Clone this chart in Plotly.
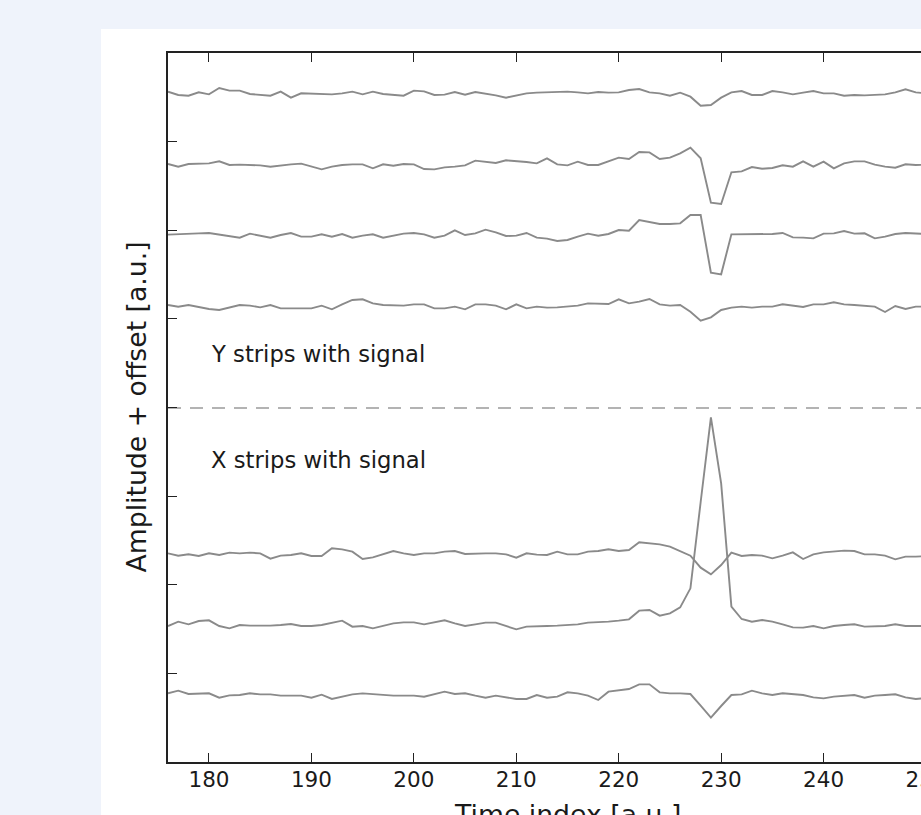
import numpy as np
import plotly.graph_objects as go

# ---------------- data ----------------
time_index = list(range(176, 251))

# Y strips (top to bottom): amplitude samples (a.u.) and vertical offsets
y4_amp = [5, -5, -7, 3, -3, 16, 8, 8, -2, -5, -7, 5, -13, 0, -1, -4, -3, 0, 5, -3, 5, -2, -4, -7, 8, 6, -5, -4, 4, -4, 4, 0, -6, -13, -7, 0, 2,
          3, 4, 5, 3, 0, 4, 2, 3, 10, 13, 3, 0, -7, 2, -10, -37, -35, -13, 3, 7, -5, -5, 7, 3, -3, 2, 7, 0, 0, -7, -5, -6, -5, -3, 3, 12, 3, 0]
y3_amp = [0, -8, 0, 0, 2, 8, -3, -2, -2, -4, -8, -4, -1, 1, -8, -16, -8, -3, -1, -1, -13, -1, -5, 0, -1, -15, -16, -10, -8, -4, 10, 7, 3, 11, 9, 6, 2,
          17, -1, -4, 7, -3, -3, 9, 19, 15, 36, 35, 15, 19, 32, 49, 17, -116, -120, -25, -22, -9, -14, -12, -4, -8, 8, -8, 7, -13, 2, 8, 8, -2, -8, -11, -1, -3, -2]
y2_amp = [-2, 0, 1, 2, 3, -1, -5, -11, 1, -5, -11, -3, 3, -8, -8, -1, -8, 0, -11, -5, -1, -11, -5, 1, 3, -1, -11, -5, 11, -3, 2, 13, 5, -6, -5, 3, -11,
          -14, -21, -18, -8, 1, -5, 0, 12, 10, 42, 35, 30, 30, 32, 57, 57, -116, -121, -1, -1, 0, 0, 0, 3, -10, -11, -13, 1, 2, 9, 1, 2, -13, -8, 0, 3, 2, 0]
y1_amp = [5, 0, 5, -2, -7, -10, -2, 5, 3, -2, 5, -5, -5, -5, -5, 3, -8, 7, 20, 22, 10, 5, 5, 3, 7, 7, -5, -5, 0, -8, 7, 7, 3, -8, 7, -5, 0,
          -3, -2, 0, 3, 10, 8, 8, 22, 10, 15, 23, 7, 3, 5, -15, -42, -32, -10, -3, 0, -3, 0, 0, 7, 2, -1, 7, 7, 13, 7, 5, 3, 0, -16, 2, -7, 0, 0]

# X strips (top to bottom)
x3_amp = [0, -7, -3, -8, 0, -5, 2, 0, 2, 0, -16, -7, -5, 0, -8, -8, 15, 12, 5, -17, -12, -2, 7, 0, -5, 0, 0, 5, 7, -2, 0, 0, 0, -3, -13, 0, -4,
          -5, 5, -3, -3, 5, 7, 12, 7, 10, 33, 30, 27, 20, 7, -7, -43, -63, -35, 2, -8, -5, -7, -15, -7, 3, -17, -3, 3, 5, 8, 7, -3, -3, -7, -18, -10, -10, -8]
x2_amp = [-3, 10, 2, 12, 14, -3, -10, 0, -2, -3, -2, 0, 3, -3, -3, 0, 7, 13, -5, -3, -10, -3, 5, 8, 8, 2, 8, 14, 5, -3, 2, 7, 7, -3, -13, -5, -5,
          -3, -2, 0, 2, 7, 8, 10, 13, 17, 43, 45, 28, 35, 53, 110, 369, 623, 425, 55, 18, 10, 15, 10, 2, -7, -8, -3, -10, -3, 0, 2, -5, -5, -3, 2, -3, -3, -3]
x1_amp = [2, 10, 0, 2, 2, -11, -4, -3, 2, -1, -1, -5, -6, -5, -11, -2, -15, -8, -1, 2, -1, -3, -5, -5, -5, -8, 0, 7, 0, 2, -5, -11, -5, -11, -15, -15, -3,
          -11, -8, 5, 2, -5, -18, 7, 12, 15, 29, 29, 5, 2, 2, 0, -35, -71, -36, -3, -1, 10, 2, -3, 2, 0, -3, -10, -13, -8, -6, -3, -11, -5, -3, -1, -10, -15, -12]

strip_amps = [y4_amp, y3_amp, y2_amp, y1_amp, x3_amp, x2_amp, x1_amp]
strip_offsets = [2006, 1794, 1584, 1366, 626, 411, 204]

divider_level = 1062
y_limits = [0, 2127]
x_limits = [176, 254]
x_ticks = [180, 190, 200, 210, 220, 230, 240, 250]
y_ticks = [265.875 * k for k in range(1, 8)]

labels = ["Y strips with signal", "X strips with signal"]
label_x = [180, 180]
label_y = [1224, 906]

# ---------------- figure ----------------
W, H = 1040, 880
L, R, T, B = 168, W - 967, 53, H - 762
pw, ph = W - L - R, H - T - B

fig = go.Figure()

for amp, off in zip(strip_amps, strip_offsets):
    fig.add_trace(go.Scatter(
        x=time_index, y=np.array(amp) + off, mode="lines",
        line=dict(color="#8a8a8a", width=1.9), hoverinfo="skip", showlegend=False))

fig.add_trace(go.Scatter(
    x=x_limits, y=[divider_level, divider_level], mode="lines",
    line=dict(color="#9a9a9a", width=1.6, dash="13px,9px"),
    hoverinfo="skip", showlegend=False))

axis_common = dict(showgrid=False, zeroline=False, showline=True, linecolor="#222222",
                   linewidth=1.8, mirror="ticks", ticks="inside", ticklen=9,
                   tickwidth=1.3, tickcolor="#222222")

fig.update_xaxes(range=x_limits, tickvals=x_ticks, ticktext=[str(v) for v in x_ticks],
                 tickfont=dict(family="DejaVu Sans", size=21.5, color="#1a1a1a"),
                 ticklabelstandoff=-3,
                 **axis_common)
fig.update_yaxes(range=y_limits, tickvals=y_ticks, showticklabels=False, **axis_common)

for txt, xx, yy in zip(labels, label_x, label_y):
    fig.add_annotation(x=xx, y=yy, text=txt, showarrow=False, xanchor="left", yanchor="middle",
                       font=dict(family="DejaVu Sans", size=22.7, color="#1a1a1a"))

fig.add_annotation(xref="paper", yref="paper", x=(136 - L) / pw, y=0.5,
                   text="Amplitude + offset [a.u.]", textangle=-90, showarrow=False,
                   xanchor="center", yanchor="middle",
                   font=dict(family="DejaVu Sans", size=26.7, color="#1a1a1a"))
fig.add_annotation(xref="paper", yref="paper", x=0.5, y=(762 - 797) / ph,
                   text="Time index [a.u.]", showarrow=False,
                   xanchor="center", yanchor="top",
                   font=dict(family="DejaVu Sans", size=26.7, color="#1a1a1a"))

# white figure panel on the page background
fig.add_shape(type="rect", xref="paper", yref="paper", layer="below",
              x0=(101 - L) / pw, x1=2, y0=-1, y1=(762 - 29) / ph,
              fillcolor="white", line=dict(width=0))

fig.update_layout(width=W, height=H, margin=dict(l=L, r=R, t=T, b=B, pad=0),
                  paper_bgcolor="#eff3fb", plot_bgcolor="white",
                  font=dict(family="DejaVu Sans"))

fig.write_html("out.html", config={"displayModeBar": False},
               post_script="document.documentElement.style.overflow='hidden';"
                           "document.body.style.overflow='hidden';"
                           "document.body.style.margin='0';")
